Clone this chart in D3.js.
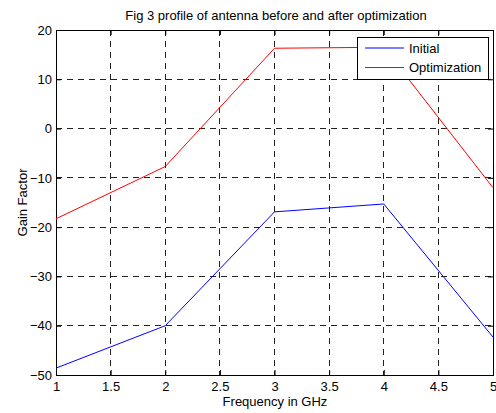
<!DOCTYPE html>
<html>
<head>
<meta charset="utf-8">
<script src="https://cdn.jsdelivr.net/npm/d3@7"></script>
<style>
  body { margin: 0; background: #fff; }
  svg text { font-family: "Liberation Sans", Arial, sans-serif; fill: #000; }
</style>
</head>
<body>
<div id="chart"></div>
<script>
// data
const freqs = [1, 2, 3, 4, 5];
const initial = [-48.6, -40, -16.9, -15.3, -42.3];
const optimized = [-18.3, -7.7, 16.3, 16.5, -12];
const xTicks = [1, 1.5, 2, 2.5, 3, 3.5, 4, 4.5, 5];
const yTicks = [-50, -40, -30, -20, -10, 0, 10, 20];
const seriesNames = ['Initial', 'Optimization'];
const seriesColors = ['#0000ff', '#ff0000'];

const width = 496, height = 413;
const margin = { top: 30, right: 3, bottom: 38, left: 56 };
const w = width - margin.left - margin.right;
const h = height - margin.top - margin.bottom;
const fs = '13px';

const svg = d3.select('#chart').append('svg')
  .attr('width', width)
  .attr('height', height);

const g = svg.append('g').attr('transform', `translate(${margin.left},${margin.top})`);

const x = d3.scaleLinear().domain([1, 5]).range([0, w]);
const y = d3.scaleLinear().domain([-50, 20]).range([h, 0]);

// dashed grid
g.append('g').selectAll('line')
  .data(xTicks.slice(1, -1))
  .enter().append('line')
  .attr('x1', d => x(d)).attr('x2', d => x(d))
  .attr('y1', 0).attr('y2', h)
  .attr('stroke', '#222').attr('stroke-width', 1)
  .attr('stroke-dasharray', '6,5')
  .attr('shape-rendering', 'crispEdges');

g.append('g').selectAll('line')
  .data(yTicks.slice(1, -1))
  .enter().append('line')
  .attr('x1', 0).attr('x2', w)
  .attr('y1', d => y(d)).attr('y2', d => y(d))
  .attr('stroke', '#222').attr('stroke-width', 1)
  .attr('stroke-dasharray', '6,5')
  .attr('shape-rendering', 'crispEdges');

// axes, ticks point inward like matlab
const axStyle = sel => {
  sel.select('.domain').remove();
  sel.selectAll('text').style('font-size', fs);
  sel.selectAll('line').attr('stroke', '#000');
};

g.append('g')
  .attr('transform', `translate(0,${h})`)
  .call(d3.axisBottom(x).tickValues(xTicks).tickSize(-5).tickPadding(7).tickFormat(d3.format('')))
  .call(axStyle);

g.append('g')
  .call(d3.axisTop(x).tickValues(xTicks).tickSize(-5).tickFormat(''))
  .call(axStyle);

g.append('g')
  .call(d3.axisLeft(y).tickValues(yTicks).tickSize(-5).tickPadding(4))
  .call(axStyle);

g.append('g')
  .attr('transform', `translate(${w},0)`)
  .call(d3.axisRight(y).tickValues(yTicks).tickSize(-5).tickFormat(''))
  .call(axStyle);

// box
g.append('rect')
  .attr('width', w).attr('height', h)
  .attr('fill', 'none').attr('stroke', '#000').attr('stroke-width', 1)
  .attr('shape-rendering', 'crispEdges');

// lines
const line = d3.line().x((d, i) => x(freqs[i])).y(d => y(d));
[initial, optimized].forEach((vals, i) => {
  g.append('path')
    .datum(vals)
    .attr('d', line)
    .attr('fill', 'none')
    .attr('stroke', seriesColors[i])
    .attr('stroke-width', 1);
});

// title and axis labels
svg.append('text')
  .attr('x', 276).attr('y', 20)
  .attr('text-anchor', 'middle').style('font-size', fs)
  .text('Fig 3 profile of antenna before and after optimization');

svg.append('text')
  .attr('x', 275).attr('y', 406)
  .attr('text-anchor', 'middle').style('font-size', fs)
  .text('Frequency in GHz');

svg.append('text')
  .attr('transform', `translate(27,${margin.top + h / 2}) rotate(-90)`)
  .attr('text-anchor', 'middle').style('font-size', fs)
  .text('Gain Factor');

// legend
const lg = svg.append('g').attr('transform', 'translate(357,37)');
lg.append('rect')
  .attr('width', 131).attr('height', 42)
  .attr('fill', '#fff').attr('stroke', '#000')
  .attr('shape-rendering', 'crispEdges');
seriesNames.forEach((name, i) => {
  const yy = 11 + i * 19.5;
  lg.append('line')
    .attr('x1', 8).attr('x2', 47).attr('y1', yy).attr('y2', yy)
    .attr('stroke', seriesColors[i]);
  lg.append('text')
    .attr('x', 52).attr('y', yy + 4.5)
    .style('font-size', fs)
    .text(name);
});
</script>
</body>
</html>
